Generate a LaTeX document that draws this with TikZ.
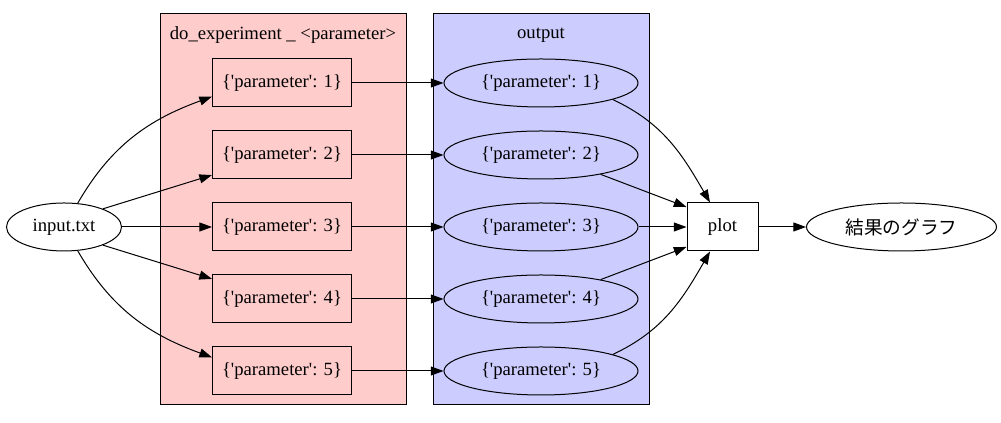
\documentclass[tikz,border=0pt]{standalone}
\usepackage{fontspec}
\setmainfont{Liberation Serif}
\newfontfamily\jpfont{Noto Sans CJK JP}
\usetikzlibrary{shapes.geometric,arrows.meta}
\newcommand{\param}[1]{\{\textquotesingle parameter\textquotesingle: #1\}}

\begin{document}
\begin{tikzpicture}[x=0.75pt, y=0.75pt,
    every node/.style={font=\fontsize{14pt}{16pt}\selectfont},
    procbox/.style={draw, line width=0.75pt, minimum width=104.25pt, minimum height=36pt, inner sep=0pt},
    outell/.style={draw, ellipse, line width=0.75pt, minimum width=145.5pt, minimum height=36pt, inner sep=0pt},
    flow/.style={-{Triangle[length=9.5pt,width=6.75pt]}, line width=0.75pt}]
    \useasboundingbox (0,0) rectangle (1001,423);

    % Clusters
    \draw[line width=0.75pt, fill=red!20] (160,18) rectangle (406,409);
    \node (lblexp) at (283,388) {do\_experiment \_ <parameter>};
    \draw[line width=0.75pt, fill=blue!20] (433,18) rectangle (649,409);
    \node (lblout) at (541,388) {output};

    % Input
    \node[draw, ellipse, line width=0.75pt, minimum width=86.25pt, minimum height=36pt, inner sep=0pt] (input) at (64,196) {input.txt};

    % Experiment runs
    \node[procbox] (run1) at (282,340) {\param{1}};
    \node[procbox] (run2) at (282,268) {\param{2}};
    \node[procbox] (run3) at (282,196) {\param{3}};
    \node[procbox] (run4) at (282,124) {\param{4}};
    \node[procbox] (run5) at (282,52) {\param{5}};

    % Outputs
    \node[outell] (out1) at (541,340) {\param{1}};
    \node[outell] (out2) at (541,268) {\param{2}};
    \node[outell] (out3) at (541,196) {\param{3}};
    \node[outell] (out4) at (541,124) {\param{4}};
    \node[outell] (out5) at (541,52) {\param{5}};

    % Plot and result
    \node[draw, line width=0.75pt, minimum width=53.25pt, minimum height=36pt, inner sep=0pt] (plot) at (722.5,196) {plot};
    \node[draw, ellipse, line width=0.75pt, minimum width=142.5pt, minimum height=36pt, inner sep=0pt] (graph) at (901.5,196) {\jpfont 結果のグラフ};

    % input -> runs
    \draw[flow] (input.60) to[out=60, in=200] (run1.191);
    \draw[flow] (input.25) -- (run2.196);
    \draw[flow] (input) -- (run3);
    \draw[flow] (input.-25) -- (run4.164);
    \draw[flow] (input.-60) to[out=-60, in=160] (run5.169);

    % runs -> outputs
    \draw[flow] (run1) -- (out1);
    \draw[flow] (run2) -- (out2);
    \draw[flow] (run3) -- (out3);
    \draw[flow] (run4) -- (out4);
    \draw[flow] (run5) -- (out5);

    % outputs -> plot
    \draw[flow] (out1.-13) to[out=-25, in=120] (plot.117);
    \draw[flow] (out2.-18) -- (plot.151);
    \draw[flow] (out3) -- (plot);
    \draw[flow] (out4.18) -- (plot.-151);
    \draw[flow] (out5.13) to[out=25, in=240] (plot.243);

    % plot -> graph
    \draw[flow] (plot) -- (graph);
\end{tikzpicture}
\end{document}
